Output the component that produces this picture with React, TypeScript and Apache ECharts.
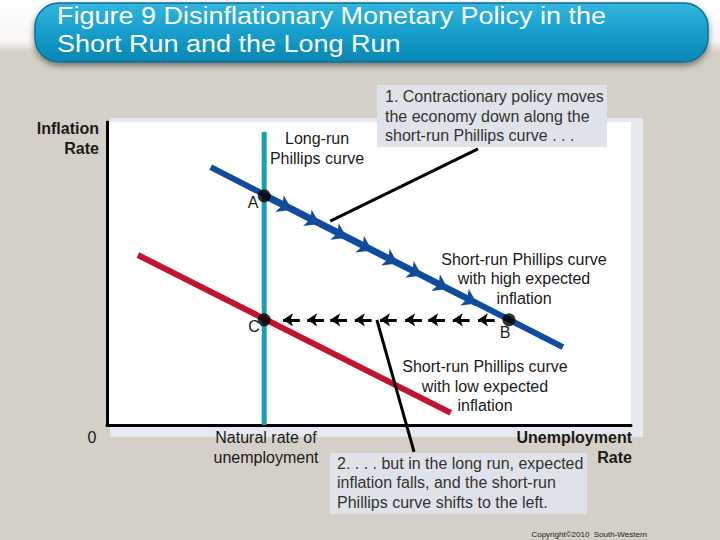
import React, { useEffect, useRef } from "react";
import * as echarts from "echarts";

// ---- data (in axis units: x = unemployment 0..100, y = inflation 0..100) ----
const lrpc: number[][] = [[30, 0], [30, 96.7]];
const srpcHigh: number[][] = [[19.8, 85.1], [87, 25.7]];
const srpcLow: number[][] = [[5.9, 56.1], [65.6, 4.0]];
const pointNames = ["A", "B", "C"];
const pointValues: number[][] = [[30, 75.6], [76.7, 34.7], [30, 34.7]];
const blueArrowTips: number[][] = [
  [35.3, 71.0], [40.6, 66.3], [45.8, 61.8], [50.6, 57.6],
  [55.5, 53.3], [60.1, 49.3], [65.1, 44.9], [70.6, 40.1],
];
const dashArrowTipsX: number[] = [33.6, 38.2, 42.6, 47.3, 52.1, 56.9, 61.3, 66.0, 70.8];
const leaderLines: number[][][] = [
  [[42.6, 67.3], [70.8, 91.1]],
  [[51.5, 34.7], [58.6, -8.9]],
];

const titleLines = ["Figure 9 Disinflationary Monetary Policy in the", "Short Run and the Long Run"];
const note1 = "1. Contractionary policy moves\nthe economy down along the\nshort-run Phillips curve . . .";
const note2 = "2. . . . but in the long run, expected\ninflation falls, and the short-run\nPhillips curve shifts to the left.";

const FONT = '"Liberation Sans", Arial, sans-serif';
const NARROW = '"Liberation Sans Narrow", "Liberation Sans", Arial, sans-serif';
const BLUE = "#0f4c9d";
const RED = "#c2142f";
const TEAL = "#1b9fb8";

export default function App() {
  const ref = useRef<HTMLDivElement>(null);
  useEffect(() => {
    document.body.style.margin = "0";
    if (!ref.current) return;
    const chart = echarts.init(ref.current, undefined, { renderer: "svg" });

    const dashLen = 3.2;
    const dashY = pointValues[1][1];
    const blueChain: any[] = [];
    let prev = pointValues[0];
    blueArrowTips.forEach((p) => {
      blueChain.push({ coords: [prev, p] });
      prev = p;
    });

    const txt = (text: string, x: number, y: number, opts: any = {}) => ({
      type: "text",
      z: 100,
      x,
      y,
      scaleX: opts.scaleX || 1,
      style: {
        text,
        fill: opts.fill || "#1a1a1a",
        font: `${opts.weight || "normal"} ${opts.size || 16}px ${opts.family || FONT}`,
        align: opts.align || "left",
        verticalAlign: opts.va || "top",
        lineHeight: opts.lh || 19.5,
      },
    });

    chart.setOption({
      animation: false,
      backgroundColor: "#d5d0c7",
      grid: {
        left: 107, right: 89, top: 122, bottom: 115,
        show: true, backgroundColor: "#ffffff", borderWidth: 0,
      },
      xAxis: {
        type: "value", min: 0, max: 100,
        axisLine: { show: true, onZero: false, lineStyle: { color: "#000", width: 3 } },
        axisTick: { show: false }, axisLabel: { show: false }, splitLine: { show: false },
      },
      yAxis: {
        type: "value", min: 0, max: 100,
        axisLine: { show: true, onZero: false, lineStyle: { color: "#000", width: 3 } },
        axisTick: { show: false }, axisLabel: { show: false }, splitLine: { show: false },
      },
      graphic: {
        elements: [
          {
            type: "rect", z: -20, shape: { x: 0, y: 0, width: 720, height: 52 },
            style: {
              fill: new echarts.graphic.LinearGradient(0, 0, 0, 1, [
                { offset: 0, color: "#ffffff" },
                { offset: 0.8, color: "#f7f6f3" },
                { offset: 1, color: "#d5d0c7" },
              ]),
            },
          },
          {
            type: "rect", z: -15, shape: { x: 110, y: 118, width: 533, height: 319 },
            style: { fill: "#e5e8ee" },
          },
          {
            type: "rect", z: -5, shape: { x: 35, y: 3, width: 673, height: 59, r: 24 },
            style: {
              fill: new echarts.graphic.LinearGradient(0, 0, 0, 1, [
                { offset: 0, color: "#33b6de" },
                { offset: 0.5, color: "#169ecb" },
                { offset: 1, color: "#0a86b3" },
              ]),
              stroke: "#0c6f95", lineWidth: 1.5,
              shadowBlur: 6, shadowOffsetY: 3, shadowColor: "rgba(0,0,0,0.45)",
            },
          },
          txt(titleLines[0], 57, 16, { fill: "#ffffff", size: 24, va: "middle", lh: 26, family: NARROW, scaleX: 1.125 }),
          txt(titleLines[1], 57, 44, { fill: "#ffffff", size: 24, va: "middle", lh: 26, family: NARROW, scaleX: 1.125 }),
          {
            type: "rect", z: 90, shape: { x: 377, y: 85, width: 230, height: 62 },
            style: { fill: "#dfe2e8" },
          },
          txt(note1, 385, 87, { fill: "#333333" }),
          {
            type: "rect", z: 90, shape: { x: 330, y: 453, width: 257, height: 61 },
            style: { fill: "#dfe2e8" },
          },
          txt(note2, 337, 453.5, { fill: "#333333" }),
          txt("Inflation\nRate", 99, 118, { weight: "bold", align: "right", lh: 20 }),
          txt("Unemployment\nRate", 632, 427, { weight: "bold", align: "right", lh: 20 }),
          txt("Natural rate of\nunemployment", 266, 427, { align: "center", lh: 20 }),
          txt("0", 92, 437, { align: "center", va: "middle" }),
          txt("Long-run\nPhillips curve", 317, 128, { align: "center", lh: 20 }),
          txt("Short-run Phillips curve\nwith high expected\ninflation", 524, 249.5, { align: "center" }),
          txt("Short-run Phillips curve\nwith low expected\ninflation", 485, 357, { align: "center" }),
          txt("A", 253, 202, { align: "center", va: "middle" }),
          txt("B", 505, 332, { align: "center", va: "middle" }),
          txt("C", 254, 326, { align: "center", va: "middle" }),
          txt("Copyright©2010  South-Western", 647, 534, { align: "right", va: "middle", size: 8, fill: "#222" }),
        ],
      },
      series: [
        {
          type: "line", data: lrpc, symbol: "none", z: 3,
          lineStyle: { color: TEAL, width: 5, cap: "butt" },
        },
        {
          type: "line", data: srpcLow, symbol: "none", z: 4,
          lineStyle: { color: RED, width: 6, cap: "butt" },
        },
        {
          type: "line", data: srpcHigh, symbol: "none", z: 4,
          lineStyle: { color: BLUE, width: 6, cap: "butt" },
        },
        {
          type: "lines", coordinateSystem: "cartesian2d", z: 5,
          symbol: ["none", "arrow"], symbolSize: 14,
          lineStyle: { color: BLUE, width: 6, opacity: 1 },
          data: blueChain,
        },
        {
          type: "lines", coordinateSystem: "cartesian2d", z: 5,
          symbol: ["none", "arrow"], symbolSize: 10,
          lineStyle: { color: "#000", width: 3, opacity: 1 },
          data: dashArrowTipsX.map((x) => ({ coords: [[x + dashLen, dashY], [x, dashY]] })),
        },
        {
          type: "lines", coordinateSystem: "cartesian2d", z: 6, clip: false,
          symbol: ["none", "none"],
          lineStyle: { color: "#000", width: 3, opacity: 1 },
          data: leaderLines.map((c) => ({ coords: c })),
        },
        {
          type: "scatter", z: 10, symbolSize: 13,
          itemStyle: { color: "#000" },
          data: pointValues.map((v, i) => ({ name: pointNames[i], value: v })),
        },
      ],
    });
    return () => chart.dispose();
  }, []);
  return <div ref={ref} style={{ width: 720, height: 540 }} />;
}
